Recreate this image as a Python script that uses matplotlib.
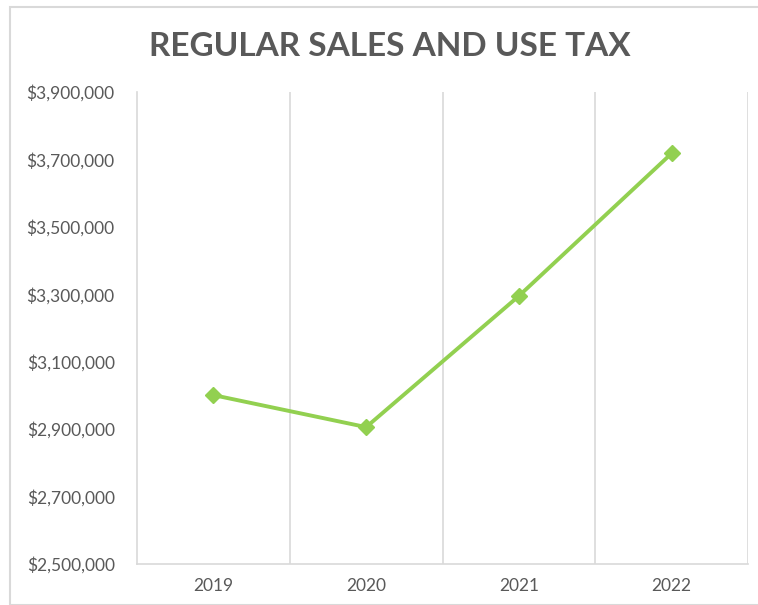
import matplotlib.pyplot as plt
from matplotlib.patches import Rectangle
from matplotlib.ticker import FuncFormatter

# Data
years = ['2019', '2020', '2021', '2022']
tax = [3001000, 2906000, 3295000, 3718000]
y_ticks = [2500000, 2700000, 2900000, 3100000, 3300000, 3500000, 3700000, 3900000]

W, H = 758, 605
fig = plt.figure(figsize=(W / 100, H / 100), dpi=100)
plt.rcParams['font.family'] = ['Lato', 'DejaVu Sans']

# chart border (light gray)
fig.patches.append(Rectangle((10 / W, 0), 1, 1 - 7 / H, transform=fig.transFigure,
                             fill=False, edgecolor='#d9d9d9', linewidth=1.5))

ax = fig.add_axes([137 / W, 1 - 564 / H, (748 - 137) / W, (564 - 92) / H])

x = range(len(years))
ax.plot(x, tax, color='#92D050', linewidth=2.8, marker='D', markersize=8,
        markerfacecolor='#92D050', markeredgecolor='#92D050')

ax.set_xlim(-0.5, len(years) - 0.5)
ax.set_ylim(y_ticks[0], y_ticks[-1])
ax.set_yticks(y_ticks)
ax.yaxis.set_major_formatter(FuncFormatter(lambda v, p: '${:,.0f}'.format(v)))
ax.set_xticks(list(x))
ax.set_xticklabels(years)

# vertical gridlines between categories
for b in [i + 0.5 for i in range(len(years) - 1)] + [len(years) - 0.5]:
    ax.axvline(b, color='#d9d9d9', linewidth=1.2, zorder=0)

for s in ['top', 'right']:
    ax.spines[s].set_visible(False)
for s in ['left', 'bottom']:
    ax.spines[s].set_color('#d9d9d9')
    ax.spines[s].set_linewidth(1.2)

ax.tick_params(axis='both', length=0, colors='#595959', labelsize=12.5)
ax.tick_params(axis='y', pad=16)
ax.tick_params(axis='x', pad=10)

fig.text(0.514, 1 - 46 / H, 'REGULAR SALES AND USE TAX', ha='center', va='center',
         fontsize=24, fontweight='bold', color='#595959')

fig.savefig('out.png', dpi=100)
